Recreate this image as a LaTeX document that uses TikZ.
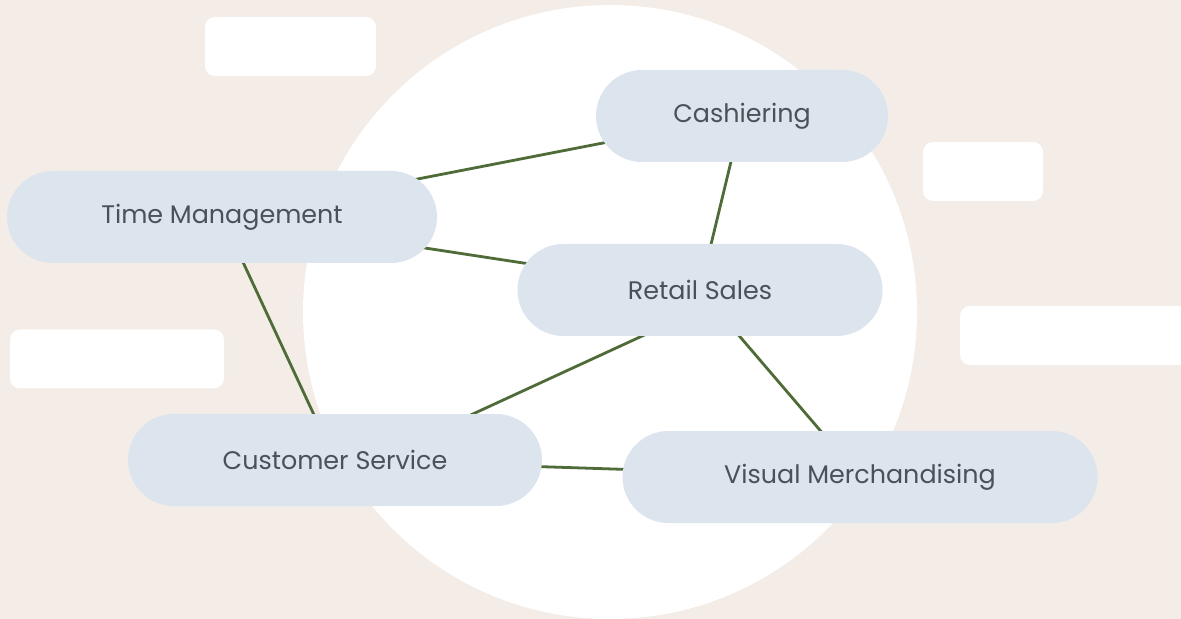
\documentclass[tikz,border=0pt]{standalone}
\usepackage{fontspec}
\setsansfont{Poppins}
\usepackage{xcolor}
\usepackage{tikz}
\usetikzlibrary{positioning, calc, backgrounds}

\definecolor{backbeige}{HTML}{F3ECE7}
\definecolor{pillblue}{HTML}{DCE4EE}
\definecolor{linkgreen}{HTML}{4E6B38}
\definecolor{textgray}{HTML}{4B5157}

\begin{document}
\begin{tikzpicture}[
    x=0.5pt, y=-0.5pt,
    pill/.style={rectangle, fill=pillblue, rounded corners=23pt, align=center, minimum height=46pt, text=textgray, font=\sffamily\fontsize{12.7}{15}\selectfont},
    tag/.style={rectangle, fill=white, rounded corners=5pt, minimum height=29.5pt},
    link/.style={draw=linkgreen, line width=1.4pt}
]
\useasboundingbox (0,0) rectangle (1181,619);

% Backdrop
\begin{pgfonlayer}{background}
\fill [backbeige] (0,0) rectangle (1181,619);
\fill [white] (610,312) circle [radius=153.5pt];
\end{pgfonlayer}

% Empty tags
\node (tagA) [tag, minimum width=85.5pt] at (290.5,46.5) {};
\node (tagB) [tag, minimum width=60pt] at (983,171.5) {};
\node (tagC) [tag, minimum width=115pt] at (1075,335.5) {};
\node (tagD) [tag, minimum width=107pt] at (117,359) {};

% Skills
\node (time) [pill, minimum width=215pt] at (222,217) {Time Management};
\node (cash) [pill, minimum width=146pt] at (742,116) {Cashiering};
\node (retail) [pill, minimum width=182.5pt] at (700,290) {Retail Sales};
\node (service) [pill, minimum width=207pt] at (335,460) {Customer Service};
\node (visual) [pill, minimum width=237.5pt] at (860,477) {Visual Merchandising};

% Links
\begin{pgfonlayer}{background}
\draw [link] (time.center) -- (cash.center);
\draw [link] (time.center) -- (retail.center);
\draw [link] (time.center) -- (service.center);
\draw [link] (cash.center) -- (retail.center);
\draw [link] ($(retail.center)+(42,0)$) -- ($(service.center)+(38,0)$);
\draw [link] (retail.center) -- (visual.center);
\draw [link] (service.center) -- (visual.center);
\end{pgfonlayer}

\end{tikzpicture}
\end{document}
